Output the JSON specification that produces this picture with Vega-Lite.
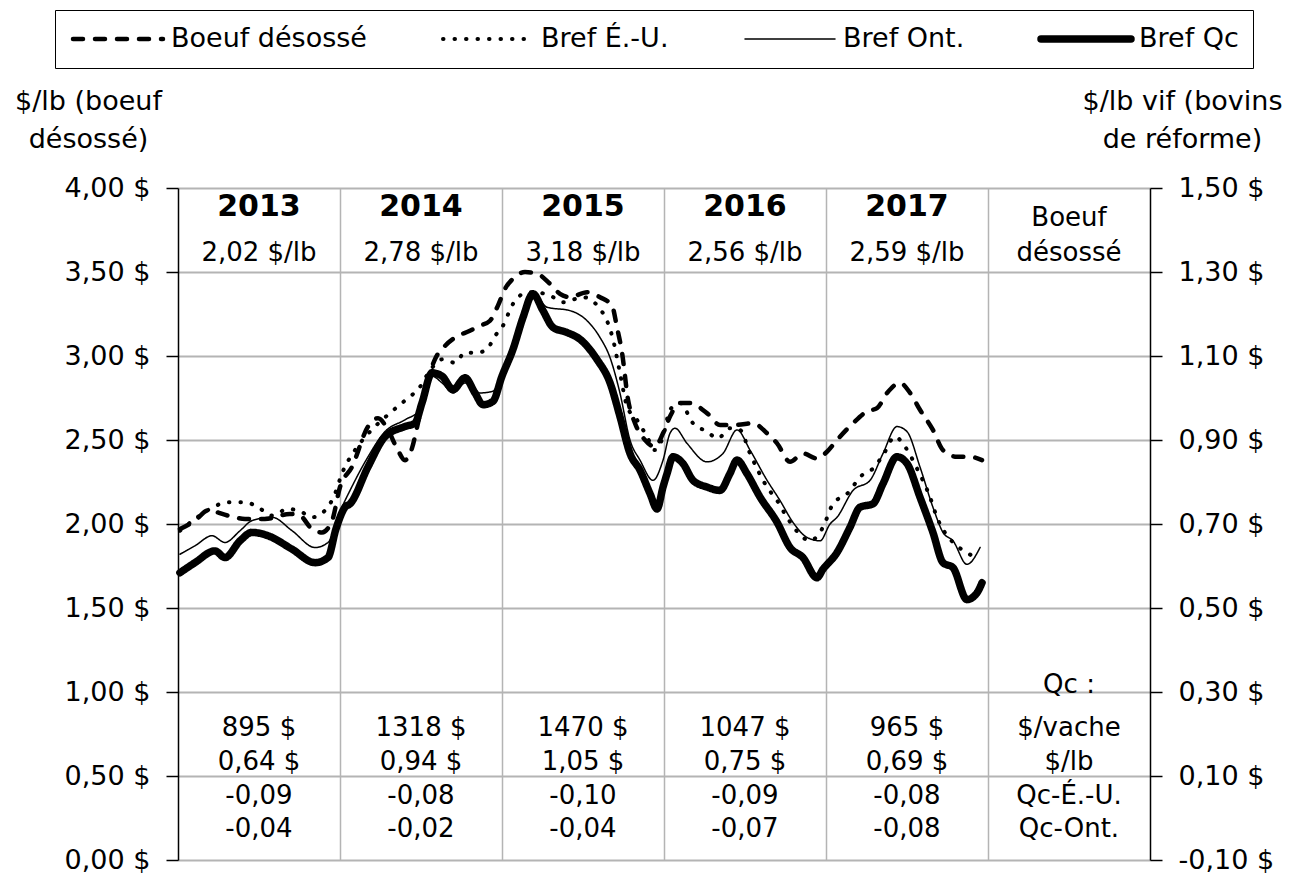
{
  "$schema": "https://vega.github.io/schema/vega-lite/v6.json",
  "width": 972,
  "height": 672,
  "autosize": {"type": "none"},
  "padding": {"left": 178, "top": 188, "right": 151, "bottom": 18},
  "background": "white",
  "config": {
    "font": "DejaVu Sans",
    "view": {"stroke": null},
    "axis": {"labelFont": "DejaVu Sans", "titleFont": "DejaVu Sans", "labelColor": "black", "titleColor": "black"},
    "legend": {
      "orient": "none",
      "legendX": -123,
      "legendY": -178,
      "direction": "horizontal",
      "columns": 4,
      "symbolType": "stroke",
      "symbolSize": 8100,
      "symbolStrokeColor": "black",
      "symbolOpacity": 1,
      "labelFont": "DejaVu Sans",
      "labelFontSize": 27,
      "labelColor": "black",
      "labelOffset": 4,
      "labelLimit": 400,
      "columnPadding": 72,
      "padding": 14,
      "strokeColor": "black",
      "clipHeight": 30
    }
  },
  "datasets": {
    "boeuf": [
      {"serie": "Boeuf désossé", "annee": 2013.012, "prix": 1.97},
      {"serie": "Boeuf désossé", "annee": 2013.105, "prix": 2.02},
      {"serie": "Boeuf désossé", "annee": 2013.185, "prix": 2.08},
      {"serie": "Boeuf désossé", "annee": 2013.309, "prix": 2.05},
      {"serie": "Boeuf désossé", "annee": 2013.414, "prix": 2.03},
      {"serie": "Boeuf désossé", "annee": 2013.537, "prix": 2.03},
      {"serie": "Boeuf désossé", "annee": 2013.691, "prix": 2.06},
      {"serie": "Boeuf désossé", "annee": 2013.753, "prix": 2.05},
      {"serie": "Boeuf désossé", "annee": 2013.827, "prix": 1.97},
      {"serie": "Boeuf désossé", "annee": 2013.889, "prix": 1.95},
      {"serie": "Boeuf désossé", "annee": 2013.951, "prix": 2.02},
      {"serie": "Boeuf désossé", "annee": 2014.0, "prix": 2.22},
      {"serie": "Boeuf désossé", "annee": 2014.074, "prix": 2.34},
      {"serie": "Boeuf désossé", "annee": 2014.173, "prix": 2.58},
      {"serie": "Boeuf désossé", "annee": 2014.235, "prix": 2.63},
      {"serie": "Boeuf désossé", "annee": 2014.296, "prix": 2.56},
      {"serie": "Boeuf désossé", "annee": 2014.352, "prix": 2.45},
      {"serie": "Boeuf désossé", "annee": 2014.401, "prix": 2.38},
      {"serie": "Boeuf désossé", "annee": 2014.444, "prix": 2.45},
      {"serie": "Boeuf désossé", "annee": 2014.481, "prix": 2.6},
      {"serie": "Boeuf désossé", "annee": 2014.525, "prix": 2.8},
      {"serie": "Boeuf désossé", "annee": 2014.586, "prix": 2.98},
      {"serie": "Boeuf désossé", "annee": 2014.648, "prix": 3.06},
      {"serie": "Boeuf désossé", "annee": 2014.71, "prix": 3.11},
      {"serie": "Boeuf désossé", "annee": 2014.802, "prix": 3.15},
      {"serie": "Boeuf désossé", "annee": 2014.864, "prix": 3.18},
      {"serie": "Boeuf désossé", "annee": 2014.926, "prix": 3.21},
      {"serie": "Boeuf désossé", "annee": 2014.975, "prix": 3.3},
      {"serie": "Boeuf désossé", "annee": 2015.019, "prix": 3.4},
      {"serie": "Boeuf désossé", "annee": 2015.068, "prix": 3.46},
      {"serie": "Boeuf désossé", "annee": 2015.142, "prix": 3.5},
      {"serie": "Boeuf désossé", "annee": 2015.216, "prix": 3.49},
      {"serie": "Boeuf désossé", "annee": 2015.296, "prix": 3.43},
      {"serie": "Boeuf désossé", "annee": 2015.358, "prix": 3.37},
      {"serie": "Boeuf désossé", "annee": 2015.42, "prix": 3.35},
      {"serie": "Boeuf désossé", "annee": 2015.525, "prix": 3.38},
      {"serie": "Boeuf désossé", "annee": 2015.605, "prix": 3.35},
      {"serie": "Boeuf désossé", "annee": 2015.679, "prix": 3.3},
      {"serie": "Boeuf désossé", "annee": 2015.71, "prix": 3.17},
      {"serie": "Boeuf désossé", "annee": 2015.741, "prix": 3.02},
      {"serie": "Boeuf désossé", "annee": 2015.778, "prix": 2.74},
      {"serie": "Boeuf désossé", "annee": 2015.821, "prix": 2.6},
      {"serie": "Boeuf désossé", "annee": 2015.883, "prix": 2.5},
      {"serie": "Boeuf désossé", "annee": 2015.944, "prix": 2.46},
      {"serie": "Boeuf désossé", "annee": 2015.994, "prix": 2.54},
      {"serie": "Boeuf désossé", "annee": 2016.037, "prix": 2.64},
      {"serie": "Boeuf désossé", "annee": 2016.099, "prix": 2.72},
      {"serie": "Boeuf désossé", "annee": 2016.16, "prix": 2.72},
      {"serie": "Boeuf désossé", "annee": 2016.265, "prix": 2.66},
      {"serie": "Boeuf désossé", "annee": 2016.346, "prix": 2.59},
      {"serie": "Boeuf désossé", "annee": 2016.451, "prix": 2.59},
      {"serie": "Boeuf désossé", "annee": 2016.549, "prix": 2.6},
      {"serie": "Boeuf désossé", "annee": 2016.636, "prix": 2.54},
      {"serie": "Boeuf désossé", "annee": 2016.698, "prix": 2.48},
      {"serie": "Boeuf désossé", "annee": 2016.778, "prix": 2.37},
      {"serie": "Boeuf désossé", "annee": 2016.858, "prix": 2.42},
      {"serie": "Boeuf désossé", "annee": 2016.944, "prix": 2.39},
      {"serie": "Boeuf désossé", "annee": 2017.006, "prix": 2.43},
      {"serie": "Boeuf désossé", "annee": 2017.068, "prix": 2.5},
      {"serie": "Boeuf désossé", "annee": 2017.167, "prix": 2.6},
      {"serie": "Boeuf désossé", "annee": 2017.253, "prix": 2.67},
      {"serie": "Boeuf désossé", "annee": 2017.315, "prix": 2.69},
      {"serie": "Boeuf désossé", "annee": 2017.377, "prix": 2.78},
      {"serie": "Boeuf désossé", "annee": 2017.457, "prix": 2.84},
      {"serie": "Boeuf désossé", "annee": 2017.519, "prix": 2.78},
      {"serie": "Boeuf désossé", "annee": 2017.58, "prix": 2.68},
      {"serie": "Boeuf désossé", "annee": 2017.66, "prix": 2.56},
      {"serie": "Boeuf désossé", "annee": 2017.722, "prix": 2.44},
      {"serie": "Boeuf désossé", "annee": 2017.809, "prix": 2.4},
      {"serie": "Boeuf désossé", "annee": 2017.889, "prix": 2.4},
      {"serie": "Boeuf désossé", "annee": 2017.963, "prix": 2.38}
    ],
    "bref": [
      {"serie": "Bref É.-U.", "annee": 2013.012, "prix_vif": 0.684},
      {"serie": "Bref É.-U.", "annee": 2013.105, "prix_vif": 0.712},
      {"serie": "Bref É.-U.", "annee": 2013.198, "prix_vif": 0.736},
      {"serie": "Bref É.-U.", "annee": 2013.309, "prix_vif": 0.752},
      {"serie": "Bref É.-U.", "annee": 2013.414, "prix_vif": 0.752},
      {"serie": "Bref É.-U.", "annee": 2013.494, "prix_vif": 0.74},
      {"serie": "Bref É.-U.", "annee": 2013.58, "prix_vif": 0.72},
      {"serie": "Bref É.-U.", "annee": 2013.679, "prix_vif": 0.736},
      {"serie": "Bref É.-U.", "annee": 2013.765, "prix_vif": 0.728},
      {"serie": "Bref É.-U.", "annee": 2013.827, "prix_vif": 0.716},
      {"serie": "Bref É.-U.", "annee": 2013.907, "prix_vif": 0.732},
      {"serie": "Bref É.-U.", "annee": 2013.969, "prix_vif": 0.772},
      {"serie": "Bref É.-U.", "annee": 2014.012, "prix_vif": 0.82},
      {"serie": "Bref É.-U.", "annee": 2014.093, "prix_vif": 0.876},
      {"serie": "Bref É.-U.", "annee": 2014.185, "prix_vif": 0.92},
      {"serie": "Bref É.-U.", "annee": 2014.296, "prix_vif": 0.96},
      {"serie": "Bref É.-U.", "annee": 2014.42, "prix_vif": 1.0},
      {"serie": "Bref É.-U.", "annee": 2014.481, "prix_vif": 1.02},
      {"serie": "Bref É.-U.", "annee": 2014.568, "prix_vif": 1.072},
      {"serie": "Bref É.-U.", "annee": 2014.63, "prix_vif": 1.092},
      {"serie": "Bref É.-U.", "annee": 2014.71, "prix_vif": 1.084},
      {"serie": "Bref É.-U.", "annee": 2014.772, "prix_vif": 1.108},
      {"serie": "Bref É.-U.", "annee": 2014.846, "prix_vif": 1.108},
      {"serie": "Bref É.-U.", "annee": 2014.907, "prix_vif": 1.116},
      {"serie": "Bref É.-U.", "annee": 2014.957, "prix_vif": 1.148},
      {"serie": "Bref É.-U.", "annee": 2015.0, "prix_vif": 1.168},
      {"serie": "Bref É.-U.", "annee": 2015.068, "prix_vif": 1.224},
      {"serie": "Bref É.-U.", "annee": 2015.13, "prix_vif": 1.248},
      {"serie": "Bref É.-U.", "annee": 2015.191, "prix_vif": 1.252},
      {"serie": "Bref É.-U.", "annee": 2015.296, "prix_vif": 1.244},
      {"serie": "Bref É.-U.", "annee": 2015.377, "prix_vif": 1.228},
      {"serie": "Bref É.-U.", "annee": 2015.5, "prix_vif": 1.24},
      {"serie": "Bref É.-U.", "annee": 2015.605, "prix_vif": 1.212},
      {"serie": "Bref É.-U.", "annee": 2015.648, "prix_vif": 1.184},
      {"serie": "Bref É.-U.", "annee": 2015.685, "prix_vif": 1.14},
      {"serie": "Bref É.-U.", "annee": 2015.728, "prix_vif": 1.06},
      {"serie": "Bref É.-U.", "annee": 2015.772, "prix_vif": 0.98},
      {"serie": "Bref É.-U.", "annee": 2015.833, "prix_vif": 0.948},
      {"serie": "Bref É.-U.", "annee": 2015.895, "prix_vif": 0.908},
      {"serie": "Bref É.-U.", "annee": 2015.944, "prix_vif": 0.876},
      {"serie": "Bref É.-U.", "annee": 2015.994, "prix_vif": 0.908},
      {"serie": "Bref É.-U.", "annee": 2016.037, "prix_vif": 0.972},
      {"serie": "Bref É.-U.", "annee": 2016.099, "prix_vif": 0.988},
      {"serie": "Bref É.-U.", "annee": 2016.179, "prix_vif": 0.94},
      {"serie": "Bref É.-U.", "annee": 2016.265, "prix_vif": 0.92},
      {"serie": "Bref É.-U.", "annee": 2016.333, "prix_vif": 0.904},
      {"serie": "Bref É.-U.", "annee": 2016.407, "prix_vif": 0.928},
      {"serie": "Bref É.-U.", "annee": 2016.469, "prix_vif": 0.924},
      {"serie": "Bref É.-U.", "annee": 2016.531, "prix_vif": 0.868},
      {"serie": "Bref É.-U.", "annee": 2016.636, "prix_vif": 0.788},
      {"serie": "Bref É.-U.", "annee": 2016.698, "prix_vif": 0.756},
      {"serie": "Bref É.-U.", "annee": 2016.759, "prix_vif": 0.716},
      {"serie": "Bref É.-U.", "annee": 2016.827, "prix_vif": 0.68},
      {"serie": "Bref É.-U.", "annee": 2016.901, "prix_vif": 0.66},
      {"serie": "Bref É.-U.", "annee": 2016.981, "prix_vif": 0.692},
      {"serie": "Bref É.-U.", "annee": 2017.043, "prix_vif": 0.748},
      {"serie": "Bref É.-U.", "annee": 2017.13, "prix_vif": 0.772},
      {"serie": "Bref É.-U.", "annee": 2017.222, "prix_vif": 0.816},
      {"serie": "Bref É.-U.", "annee": 2017.29, "prix_vif": 0.832},
      {"serie": "Bref É.-U.", "annee": 2017.352, "prix_vif": 0.864},
      {"serie": "Bref É.-U.", "annee": 2017.426, "prix_vif": 0.908},
      {"serie": "Bref É.-U.", "annee": 2017.488, "prix_vif": 0.884},
      {"serie": "Bref É.-U.", "annee": 2017.562, "prix_vif": 0.832},
      {"serie": "Bref É.-U.", "annee": 2017.642, "prix_vif": 0.764},
      {"serie": "Bref É.-U.", "annee": 2017.685, "prix_vif": 0.716},
      {"serie": "Bref É.-U.", "annee": 2017.784, "prix_vif": 0.656},
      {"serie": "Bref É.-U.", "annee": 2017.87, "prix_vif": 0.632},
      {"serie": "Bref É.-U.", "annee": 2017.92, "prix_vif": 0.62},
      {"serie": "Bref Ont.", "annee": 2013.012, "prix_vif": 0.628},
      {"serie": "Bref Ont.", "annee": 2013.105, "prix_vif": 0.648},
      {"serie": "Bref Ont.", "annee": 2013.21, "prix_vif": 0.672},
      {"serie": "Bref Ont.", "annee": 2013.29, "prix_vif": 0.656},
      {"serie": "Bref Ont.", "annee": 2013.383, "prix_vif": 0.684},
      {"serie": "Bref Ont.", "annee": 2013.457, "prix_vif": 0.708},
      {"serie": "Bref Ont.", "annee": 2013.58, "prix_vif": 0.716},
      {"serie": "Bref Ont.", "annee": 2013.704, "prix_vif": 0.684},
      {"serie": "Bref Ont.", "annee": 2013.846, "prix_vif": 0.644},
      {"serie": "Bref Ont.", "annee": 2013.926, "prix_vif": 0.656},
      {"serie": "Bref Ont.", "annee": 2014.012, "prix_vif": 0.74},
      {"serie": "Bref Ont.", "annee": 2014.062, "prix_vif": 0.78},
      {"serie": "Bref Ont.", "annee": 2014.173, "prix_vif": 0.86},
      {"serie": "Bref Ont.", "annee": 2014.278, "prix_vif": 0.92},
      {"serie": "Bref Ont.", "annee": 2014.401, "prix_vif": 0.948},
      {"serie": "Bref Ont.", "annee": 2014.494, "prix_vif": 0.972},
      {"serie": "Bref Ont.", "annee": 2014.568, "prix_vif": 1.052},
      {"serie": "Bref Ont.", "annee": 2014.63, "prix_vif": 1.036},
      {"serie": "Bref Ont.", "annee": 2014.698, "prix_vif": 1.012},
      {"serie": "Bref Ont.", "annee": 2014.772, "prix_vif": 1.036},
      {"serie": "Bref Ont.", "annee": 2014.864, "prix_vif": 1.012},
      {"serie": "Bref Ont.", "annee": 2014.944, "prix_vif": 1.016},
      {"serie": "Bref Ont.", "annee": 2015.0, "prix_vif": 1.06},
      {"serie": "Bref Ont.", "annee": 2015.068, "prix_vif": 1.128},
      {"serie": "Bref Ont.", "annee": 2015.13, "prix_vif": 1.2},
      {"serie": "Bref Ont.", "annee": 2015.191, "prix_vif": 1.252},
      {"serie": "Bref Ont.", "annee": 2015.278, "prix_vif": 1.216},
      {"serie": "Bref Ont.", "annee": 2015.42, "prix_vif": 1.208},
      {"serie": "Bref Ont.", "annee": 2015.525, "prix_vif": 1.184},
      {"serie": "Bref Ont.", "annee": 2015.605, "prix_vif": 1.144},
      {"serie": "Bref Ont.", "annee": 2015.667, "prix_vif": 1.096},
      {"serie": "Bref Ont.", "annee": 2015.728, "prix_vif": 1.012},
      {"serie": "Bref Ont.", "annee": 2015.79, "prix_vif": 0.9},
      {"serie": "Bref Ont.", "annee": 2015.852, "prix_vif": 0.852},
      {"serie": "Bref Ont.", "annee": 2015.932, "prix_vif": 0.804},
      {"serie": "Bref Ont.", "annee": 2015.994, "prix_vif": 0.852},
      {"serie": "Bref Ont.", "annee": 2016.037, "prix_vif": 0.916},
      {"serie": "Bref Ont.", "annee": 2016.068, "prix_vif": 0.928},
      {"serie": "Bref Ont.", "annee": 2016.142, "prix_vif": 0.892},
      {"serie": "Bref Ont.", "annee": 2016.265, "prix_vif": 0.848},
      {"serie": "Bref Ont.", "annee": 2016.364, "prix_vif": 0.868},
      {"serie": "Bref Ont.", "annee": 2016.451, "prix_vif": 0.924},
      {"serie": "Bref Ont.", "annee": 2016.531, "prix_vif": 0.876},
      {"serie": "Bref Ont.", "annee": 2016.636, "prix_vif": 0.804},
      {"serie": "Bref Ont.", "annee": 2016.716, "prix_vif": 0.756},
      {"serie": "Bref Ont.", "annee": 2016.796, "prix_vif": 0.704},
      {"serie": "Bref Ont.", "annee": 2016.883, "prix_vif": 0.668},
      {"serie": "Bref Ont.", "annee": 2016.963, "prix_vif": 0.66},
      {"serie": "Bref Ont.", "annee": 2017.025, "prix_vif": 0.7},
      {"serie": "Bref Ont.", "annee": 2017.068, "prix_vif": 0.716},
      {"serie": "Bref Ont.", "annee": 2017.167, "prix_vif": 0.78},
      {"serie": "Bref Ont.", "annee": 2017.272, "prix_vif": 0.804},
      {"serie": "Bref Ont.", "annee": 2017.352, "prix_vif": 0.868},
      {"serie": "Bref Ont.", "annee": 2017.438, "prix_vif": 0.932},
      {"serie": "Bref Ont.", "annee": 2017.5, "prix_vif": 0.92},
      {"serie": "Bref Ont.", "annee": 2017.58, "prix_vif": 0.836},
      {"serie": "Bref Ont.", "annee": 2017.66, "prix_vif": 0.74},
      {"serie": "Bref Ont.", "annee": 2017.722, "prix_vif": 0.68},
      {"serie": "Bref Ont.", "annee": 2017.784, "prix_vif": 0.66},
      {"serie": "Bref Ont.", "annee": 2017.87, "prix_vif": 0.604},
      {"serie": "Bref Ont.", "annee": 2017.951, "prix_vif": 0.644},
      {"serie": "Bref Qc", "annee": 2013.012, "prix_vif": 0.584},
      {"serie": "Bref Qc", "annee": 2013.105, "prix_vif": 0.608},
      {"serie": "Bref Qc", "annee": 2013.228, "prix_vif": 0.636},
      {"serie": "Bref Qc", "annee": 2013.29, "prix_vif": 0.62},
      {"serie": "Bref Qc", "annee": 2013.383, "prix_vif": 0.66},
      {"serie": "Bref Qc", "annee": 2013.457, "prix_vif": 0.68},
      {"serie": "Bref Qc", "annee": 2013.556, "prix_vif": 0.672},
      {"serie": "Bref Qc", "annee": 2013.704, "prix_vif": 0.64},
      {"serie": "Bref Qc", "annee": 2013.846, "prix_vif": 0.608},
      {"serie": "Bref Qc", "annee": 2013.926, "prix_vif": 0.62},
      {"serie": "Bref Qc", "annee": 2013.975, "prix_vif": 0.688},
      {"serie": "Bref Qc", "annee": 2014.031, "prix_vif": 0.74},
      {"serie": "Bref Qc", "annee": 2014.062, "prix_vif": 0.748},
      {"serie": "Bref Qc", "annee": 2014.173, "prix_vif": 0.836},
      {"serie": "Bref Qc", "annee": 2014.278, "prix_vif": 0.908},
      {"serie": "Bref Qc", "annee": 2014.401, "prix_vif": 0.932},
      {"serie": "Bref Qc", "annee": 2014.463, "prix_vif": 0.94},
      {"serie": "Bref Qc", "annee": 2014.506, "prix_vif": 0.988},
      {"serie": "Bref Qc", "annee": 2014.568, "prix_vif": 1.06},
      {"serie": "Bref Qc", "annee": 2014.63, "prix_vif": 1.052},
      {"serie": "Bref Qc", "annee": 2014.698, "prix_vif": 1.02},
      {"serie": "Bref Qc", "annee": 2014.772, "prix_vif": 1.048},
      {"serie": "Bref Qc", "annee": 2014.833, "prix_vif": 1.012},
      {"serie": "Bref Qc", "annee": 2014.883, "prix_vif": 0.984},
      {"serie": "Bref Qc", "annee": 2014.944, "prix_vif": 0.992},
      {"serie": "Bref Qc", "annee": 2015.0, "prix_vif": 1.052},
      {"serie": "Bref Qc", "annee": 2015.068, "prix_vif": 1.116},
      {"serie": "Bref Qc", "annee": 2015.13, "prix_vif": 1.192},
      {"serie": "Bref Qc", "annee": 2015.191, "prix_vif": 1.248},
      {"serie": "Bref Qc", "annee": 2015.253, "prix_vif": 1.208},
      {"serie": "Bref Qc", "annee": 2015.315, "prix_vif": 1.168},
      {"serie": "Bref Qc", "annee": 2015.401, "prix_vif": 1.156},
      {"serie": "Bref Qc", "annee": 2015.481, "prix_vif": 1.14},
      {"serie": "Bref Qc", "annee": 2015.586, "prix_vif": 1.092},
      {"serie": "Bref Qc", "annee": 2015.667, "prix_vif": 1.036},
      {"serie": "Bref Qc", "annee": 2015.728, "prix_vif": 0.956},
      {"serie": "Bref Qc", "annee": 2015.79, "prix_vif": 0.868},
      {"serie": "Bref Qc", "annee": 2015.852, "prix_vif": 0.828},
      {"serie": "Bref Qc", "annee": 2015.914, "prix_vif": 0.772},
      {"serie": "Bref Qc", "annee": 2015.957, "prix_vif": 0.736},
      {"serie": "Bref Qc", "annee": 2015.994, "prix_vif": 0.788},
      {"serie": "Bref Qc", "annee": 2016.019, "prix_vif": 0.82},
      {"serie": "Bref Qc", "annee": 2016.056, "prix_vif": 0.86},
      {"serie": "Bref Qc", "annee": 2016.117, "prix_vif": 0.844},
      {"serie": "Bref Qc", "annee": 2016.179, "prix_vif": 0.804},
      {"serie": "Bref Qc", "annee": 2016.265, "prix_vif": 0.788},
      {"serie": "Bref Qc", "annee": 2016.346, "prix_vif": 0.78},
      {"serie": "Bref Qc", "annee": 2016.407, "prix_vif": 0.82},
      {"serie": "Bref Qc", "annee": 2016.451, "prix_vif": 0.852},
      {"serie": "Bref Qc", "annee": 2016.512, "prix_vif": 0.82},
      {"serie": "Bref Qc", "annee": 2016.593, "prix_vif": 0.764},
      {"serie": "Bref Qc", "annee": 2016.698, "prix_vif": 0.704},
      {"serie": "Bref Qc", "annee": 2016.778, "prix_vif": 0.644},
      {"serie": "Bref Qc", "annee": 2016.858, "prix_vif": 0.62},
      {"serie": "Bref Qc", "annee": 2016.944, "prix_vif": 0.572},
      {"serie": "Bref Qc", "annee": 2016.981, "prix_vif": 0.592},
      {"serie": "Bref Qc", "annee": 2017.068, "prix_vif": 0.632},
      {"serie": "Bref Qc", "annee": 2017.148, "prix_vif": 0.692},
      {"serie": "Bref Qc", "annee": 2017.21, "prix_vif": 0.74},
      {"serie": "Bref Qc", "annee": 2017.29, "prix_vif": 0.748},
      {"serie": "Bref Qc", "annee": 2017.352, "prix_vif": 0.796},
      {"serie": "Bref Qc", "annee": 2017.438, "prix_vif": 0.86},
      {"serie": "Bref Qc", "annee": 2017.5, "prix_vif": 0.844},
      {"serie": "Bref Qc", "annee": 2017.58, "prix_vif": 0.764},
      {"serie": "Bref Qc", "annee": 2017.66, "prix_vif": 0.68},
      {"serie": "Bref Qc", "annee": 2017.722, "prix_vif": 0.608},
      {"serie": "Bref Qc", "annee": 2017.784, "prix_vif": 0.596},
      {"serie": "Bref Qc", "annee": 2017.87, "prix_vif": 0.52},
      {"serie": "Bref Qc", "annee": 2017.932, "prix_vif": 0.536},
      {"serie": "Bref Qc", "annee": 2017.963, "prix_vif": 0.56}
    ],
    "textes": [
      {"annee": 2013, "ligne": "titre", "texte": "2013"},
      {"annee": 2014, "ligne": "titre", "texte": "2014"},
      {"annee": 2015, "ligne": "titre", "texte": "2015"},
      {"annee": 2016, "ligne": "titre", "texte": "2016"},
      {"annee": 2017, "ligne": "titre", "texte": "2017"},
      {"annee": 2018, "ligne": "titre_lib", "texte": "Boeuf"},
      {"annee": 2013, "ligne": "moyenne", "texte": "2,02 $/lb"},
      {"annee": 2014, "ligne": "moyenne", "texte": "2,78 $/lb"},
      {"annee": 2015, "ligne": "moyenne", "texte": "3,18 $/lb"},
      {"annee": 2016, "ligne": "moyenne", "texte": "2,56 $/lb"},
      {"annee": 2017, "ligne": "moyenne", "texte": "2,59 $/lb"},
      {"annee": 2018, "ligne": "moyenne", "texte": "désossé"},
      {"annee": 2018, "ligne": "entete", "texte": "Qc :"},
      {"annee": 2013, "ligne": "vache", "texte": "895 $"},
      {"annee": 2014, "ligne": "vache", "texte": "1318 $"},
      {"annee": 2015, "ligne": "vache", "texte": "1470 $"},
      {"annee": 2016, "ligne": "vache", "texte": "1047 $"},
      {"annee": 2017, "ligne": "vache", "texte": "965 $"},
      {"annee": 2018, "ligne": "vache", "texte": "$/vache"},
      {"annee": 2013, "ligne": "lb", "texte": "0,64 $"},
      {"annee": 2014, "ligne": "lb", "texte": "0,94 $"},
      {"annee": 2015, "ligne": "lb", "texte": "1,05 $"},
      {"annee": 2016, "ligne": "lb", "texte": "0,75 $"},
      {"annee": 2017, "ligne": "lb", "texte": "0,69 $"},
      {"annee": 2018, "ligne": "lb", "texte": "$/lb"},
      {"annee": 2013, "ligne": "ecart_us", "texte": "-0,09"},
      {"annee": 2014, "ligne": "ecart_us", "texte": "-0,08"},
      {"annee": 2015, "ligne": "ecart_us", "texte": "-0,10"},
      {"annee": 2016, "ligne": "ecart_us", "texte": "-0,09"},
      {"annee": 2017, "ligne": "ecart_us", "texte": "-0,08"},
      {"annee": 2018, "ligne": "ecart_us", "texte": "Qc-É.-U."},
      {"annee": 2013, "ligne": "ecart_ont", "texte": "-0,04"},
      {"annee": 2014, "ligne": "ecart_ont", "texte": "-0,02"},
      {"annee": 2015, "ligne": "ecart_ont", "texte": "-0,04"},
      {"annee": 2016, "ligne": "ecart_ont", "texte": "-0,07"},
      {"annee": 2017, "ligne": "ecart_ont", "texte": "-0,08"},
      {"annee": 2018, "ligne": "ecart_ont", "texte": "Qc-Ont."}
    ]
  },
  "layer": [
    {
      "layer": [
        {
          "data": {"name": "boeuf"},
          "mark": {"type": "line", "color": "black", "interpolate": "monotone", "strokeCap": "round", "strokeJoin": "round"},
          "encoding": {
            "x": {
              "field": "annee", "type": "quantitative",
              "scale": {"domain": [2013, 2019], "nice": false, "zero": false},
              "axis": {"values": [2014, 2015, 2016, 2017, 2018], "grid": true, "gridColor": "#b4b4b4", "gridWidth": 1.5, "labels": false, "ticks": false, "domain": false, "title": null}
            },
            "y": {
              "field": "prix", "type": "quantitative",
              "scale": {"domain": [0, 4], "nice": false, "zero": false},
              "axis": {
                "orient": "left",
                "values": [0, 0.5, 1, 1.5, 2, 2.5, 3, 3.5, 4],
                "labelExpr": "replace(format(datum.value, '.2f'), '.', ',') + ' $'",
                "labelFontSize": 27,
                "labelPadding": 16,
                "tickSize": 12,
                "tickColor": "black",
                "tickWidth": 1.5,
                "domainColor": "black",
                "domainWidth": 1.5,
                "grid": true,
                "gridColor": "#b4b4b4",
                "gridWidth": 2,
                "title": ["$/lb (boeuf", "désossé)"],
                "titleAngle": 0,
                "titleAlign": "center",
                "titleBaseline": "top",
                "titleX": -90,
                "titleY": -100,
                "titleFontSize": 27,
                "titleFontWeight": "normal",
                "titleLineHeight": 38
              }
            },
            "strokeDash": {
              "field": "serie", "type": "ordinal", "title": null,
              "scale": {"domain": ["Boeuf désossé", "Bref É.-U.", "Bref Ont.", "Bref Qc"], "range": [[10, 12], [0.5, 11], [1, 0], [1, 0]]},
              "legend": {"title": null, "encode": {"symbols": {"update": {"strokeCap": {"value": "round"}, "stroke": {"value": "black"}}}}}
            },
            "strokeWidth": {
              "field": "serie", "type": "ordinal", "title": null,
              "scale": {"type": "ordinal", "domain": ["Boeuf désossé", "Bref É.-U.", "Bref Ont.", "Bref Qc"], "range": [4.5, 4, 1.5, 7.5]},
              "legend": {"title": null}
            }
          }
        },
        {
          "data": {"name": "textes"},
          "transform": [{"filter": "datum.ligne === 'titre'"}],
          "mark": {"type": "text", "dx": 81, "fontSize": 30, "fontWeight": "bold", "color": "black", "align": "center", "baseline": "middle"},
          "encoding": {"x": {"field": "annee", "type": "quantitative"}, "y": {"datum": 3.887}, "text": {"field": "texte"}}
        },
        {
          "data": {"name": "textes"},
          "transform": [{"filter": "datum.ligne === 'titre_lib'"}],
          "mark": {"type": "text", "dx": 81, "fontSize": 26, "color": "black", "align": "center", "baseline": "middle"},
          "encoding": {"x": {"field": "annee", "type": "quantitative"}, "y": {"datum": 3.821}, "text": {"field": "texte"}}
        },
        {
          "data": {"name": "textes"},
          "transform": [{"filter": "datum.ligne === 'moyenne'"}],
          "mark": {"type": "text", "dx": 81, "fontSize": 26, "color": "black", "align": "center", "baseline": "middle"},
          "encoding": {"x": {"field": "annee", "type": "quantitative"}, "y": {"datum": 3.613}, "text": {"field": "texte"}}
        },
        {
          "data": {"name": "textes"},
          "transform": [{"filter": "datum.ligne === 'entete'"}],
          "mark": {"type": "text", "dx": 81, "fontSize": 26, "color": "black", "align": "center", "baseline": "middle"},
          "encoding": {"x": {"field": "annee", "type": "quantitative"}, "y": {"datum": 1.042}, "text": {"field": "texte"}}
        },
        {
          "data": {"name": "textes"},
          "transform": [{"filter": "datum.ligne === 'vache'"}],
          "mark": {"type": "text", "dx": 81, "fontSize": 26, "color": "black", "align": "center", "baseline": "middle"},
          "encoding": {"x": {"field": "annee", "type": "quantitative"}, "y": {"datum": 0.786}, "text": {"field": "texte"}}
        },
        {
          "data": {"name": "textes"},
          "transform": [{"filter": "datum.ligne === 'lb'"}],
          "mark": {"type": "text", "dx": 81, "fontSize": 26, "color": "black", "align": "center", "baseline": "middle"},
          "encoding": {"x": {"field": "annee", "type": "quantitative"}, "y": {"datum": 0.583}, "text": {"field": "texte"}}
        },
        {
          "data": {"name": "textes"},
          "transform": [{"filter": "datum.ligne === 'ecart_us'"}],
          "mark": {"type": "text", "dx": 81, "fontSize": 26, "color": "black", "align": "center", "baseline": "middle"},
          "encoding": {"x": {"field": "annee", "type": "quantitative"}, "y": {"datum": 0.381}, "text": {"field": "texte"}}
        },
        {
          "data": {"name": "textes"},
          "transform": [{"filter": "datum.ligne === 'ecart_ont'"}],
          "mark": {"type": "text", "dx": 81, "fontSize": 26, "color": "black", "align": "center", "baseline": "middle"},
          "encoding": {"x": {"field": "annee", "type": "quantitative"}, "y": {"datum": 0.185}, "text": {"field": "texte"}}
        }
      ]
    },
    {
      "data": {"name": "bref"},
      "mark": {"type": "line", "color": "black", "interpolate": "monotone", "strokeCap": "round", "strokeJoin": "round"},
      "encoding": {
        "x": {"field": "annee", "type": "quantitative"},
        "y": {
          "field": "prix_vif", "type": "quantitative",
          "scale": {"domain": [-0.1, 1.5], "nice": false, "zero": false},
          "axis": {
            "orient": "right",
            "values": [-0.1, 0.1, 0.3, 0.5, 0.7, 0.9, 1.1, 1.3, 1.5],
            "labelExpr": "replace(replace(format(datum.value, '.2f'), '.', ','), '\u2212', '-') + ' $'",
            "labelFontSize": 27,
            "labelPadding": 16,
            "tickSize": 12,
            "tickColor": "black",
            "tickWidth": 1.5,
            "domainColor": "black",
            "domainWidth": 1.5,
            "grid": false,
            "title": ["$/lb vif (bovins", "de réforme)"],
            "titleAngle": 0,
            "titleAlign": "center",
            "titleBaseline": "top",
            "titleX": 32,
            "titleY": -100,
            "titleFontSize": 27,
            "titleFontWeight": "normal",
            "titleLineHeight": 38
          }
        },
        "detail": {"field": "serie"},
        "strokeDash": {
          "field": "serie", "type": "ordinal", "title": null,
          "scale": {"domain": ["Boeuf désossé", "Bref É.-U.", "Bref Ont.", "Bref Qc"], "range": [[10, 12], [0.5, 11], [1, 0], [1, 0]]}
        },
        "strokeWidth": {
          "field": "serie", "type": "ordinal", "title": null,
          "scale": {"type": "ordinal", "domain": ["Boeuf désossé", "Bref É.-U.", "Bref Ont.", "Bref Qc"], "range": [4.5, 4, 1.5, 7.5]}
        }
      }
    }
  ],
  "resolve": {"scale": {"y": "independent"}}
}
